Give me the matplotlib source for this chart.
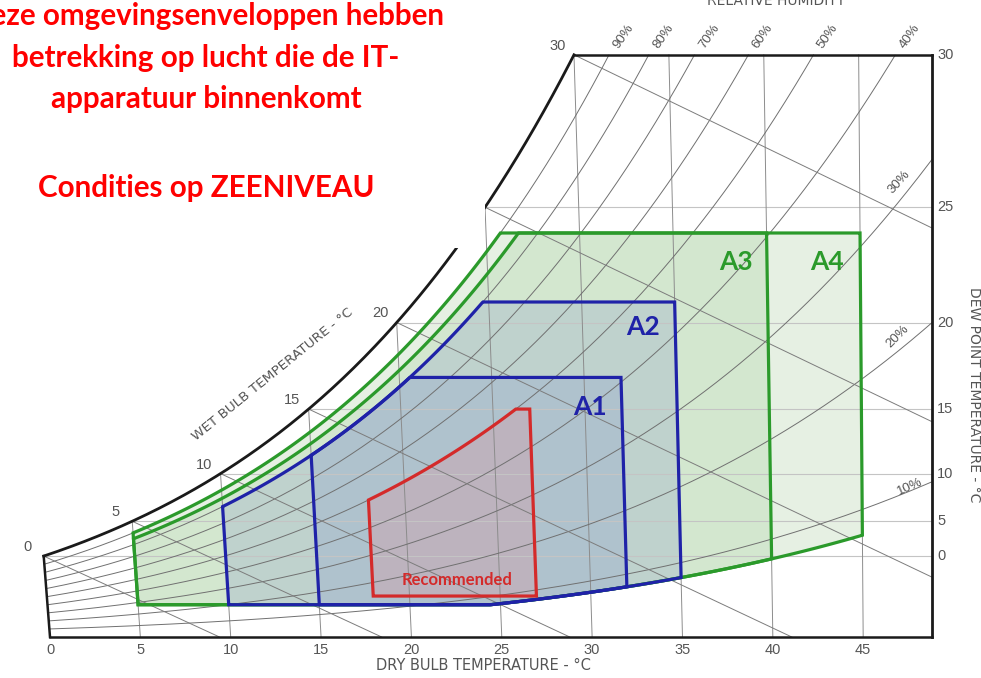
import numpy as np
import matplotlib
matplotlib.use("Agg")
import matplotlib.pyplot as plt
from matplotlib.patches import Polygon, Rectangle

# ---------------- chart data ----------------
dry_bulb_ticks = [0, 5, 10, 15, 20, 25, 30, 35, 40, 45]
dew_point_ticks = [0, 5, 10, 15, 20, 25, 30]
rh_curves = [10, 20, 30, 40, 50, 60, 70, 80, 90]
rh_top_labels = [40, 50, 60, 70, 80, 90]
rh_side_labels = [10, 20, 30]
wet_bulb_lines = [0, 5, 10, 15, 20, 25, 30]

# ASHRAE envelopes: dry-bulb range, lower dew point / RH, upper dew point / RH
env_names = ["A4", "A3", "A2", "A1", "Recommended"]
env_db_min = [5, 5, 10, 15, 18]
env_db_max = [45, 40, 35, 32, 27]
env_dp_min = [-12, -12, -12, -12, -9]
env_rh_min = [8, 8, 8, 8, 0]
env_dp_max = [24, 24, 21, 17, 15]
env_rh_max = [90, 85, 80, 80, 50]

# ---------------- psychrometrics ----------------
P_ATM = 101.325


def p_sat(t):
    return 0.61094 * np.exp(17.625 * t / (t + 243.04))


def w_from_pw(pw):
    return 622.0 * pw / (P_ATM - pw)


def w_rh(t, rh):
    return w_from_pw(rh / 100.0 * p_sat(t))


def w_dp(td):
    return w_from_pw(p_sat(td))


def w_wb(t, twb):
    ws = w_dp(twb) / 1000.0
    return 1000.0 * ((2501 - 2.326 * twb) * ws - 1.006 * (t - twb)) / (2501 + 1.86 * t - 4.186 * twb)


def t_from_p(p):
    a = np.log(p / 0.61094)
    return 243.04 * a / (17.625 - a)


def chart_x(t, w):
    # oblique dry-bulb coordinate of the psychrometric chart
    return t + 1.86e-3 * w * (t - 50.0) / 1.006


W_TOP = w_dp(30)
X_RIGHT = 48.81

# ---------------- figure ----------------
fig = plt.figure(figsize=(9.81, 6.78), dpi=100)
ax = fig.add_axes([0, 0, 1, 1])
ax.set_xlim(-2.767, 51.52)
ax.set_ylim(-1.911, 29.697)
ax.axis("off")

fills = ["#e6f0e3", "#d3e7cf", "#bfd2cd", "#afc2cd", "#bdb3be"]
edges = ["#2b9a2b", "#2b9a2b", "#1f22a8", "#1f22a8", "#d42a2a"]

outlines = []
for i in range(len(env_names)):
    t = np.linspace(env_db_min[i], env_db_max[i], 600)
    lower = np.maximum(w_dp(env_dp_min[i]), w_rh(t, env_rh_min[i]))
    upper = np.minimum(w_dp(env_dp_max[i]), w_rh(t, env_rh_max[i]))
    ts = np.concatenate([t, t[::-1]])
    ws = np.concatenate([lower, upper[::-1]])
    pts = np.column_stack([chart_x(ts, ws), ws])
    outlines.append(pts)
    ax.add_patch(Polygon(pts, closed=True, facecolor=fills[i], edgecolor="none", zorder=1))

# dew point lines
for dp in dew_point_ticks[:-1]:
    w = w_dp(dp)
    ax.plot([chart_x(dp, w), X_RIGHT], [w, w], color="#c4c4c4", lw=0.8, zorder=2)

# dry bulb lines
for t in dry_bulb_ticks[1:]:
    wmax = min(w_dp(t), W_TOP)
    ax.plot([chart_x(t, 0), chart_x(t, wmax)], [0, wmax], color="#8c8c8c", lw=0.7, zorder=2)

# relative humidity curves
tt = np.linspace(0, 52, 3000)
for rh in rh_curves:
    w = w_rh(tt, rh)
    x = chart_x(tt, w)
    m = (w <= W_TOP) & (x <= X_RIGHT)
    ax.plot(x[m], w[m], color="#707070", lw=0.7, zorder=2)

# wet bulb lines
for twb in wet_bulb_lines:
    t = np.linspace(twb, 60, 3000)
    w = w_wb(t, twb)
    x = chart_x(t, w)
    m = (w >= 0) & (x <= X_RIGHT)
    ax.plot(x[m], w[m], color="#7c7c7c", lw=0.7, zorder=2)

# saturation curve and chart frame
ts = np.linspace(0, 30, 300)
wsat = w_dp(ts)
ax.plot(chart_x(ts, wsat), wsat, color="#1a1a1a", lw=2.0, zorder=3)
ax.plot([chart_x(0, 0), chart_x(0, w_dp(0))], [0, w_dp(0)], color="#1a1a1a", lw=1.8, zorder=3)
ax.plot([0, X_RIGHT], [0, 0], color="#1a1a1a", lw=1.8, zorder=3)
ax.plot([X_RIGHT, X_RIGHT], [0, W_TOP], color="#1a1a1a", lw=2.0, zorder=3)
ax.plot([chart_x(30, W_TOP), X_RIGHT], [W_TOP, W_TOP], color="#1a1a1a", lw=1.8, zorder=3)

# envelope outlines
for i, pts in enumerate(outlines):
    ax.add_patch(Polygon(pts, closed=True, facecolor="none", edgecolor=edges[i],
                         lw=2.3, joinstyle="miter", zorder=4))

# axis labels
tick_font = dict(family="Liberation Sans", color="#555555", fontsize=10.5)
for t in dry_bulb_ticks:
    ax.text(t, -0.6, str(t), ha="center", va="center", **tick_font)
for dp in dew_point_ticks:
    ax.text(49.09, w_dp(dp), str(dp), ha="left", va="center", **tick_font)
for twb in wet_bulb_lines:
    w = w_dp(twb)
    ax.annotate(str(twb), (chart_x(twb, w), w), xytext=(-12, 6.5), textcoords="offset points",
                ha="center", va="center", **tick_font)
for rh in rh_top_labels:
    t = t_from_p(W_TOP / (622 + W_TOP) * P_ATM / (rh / 100.0))
    ax.annotate(f"{rh}%", (chart_x(t, W_TOP), W_TOP), xytext=(10.5, 13.5),
                textcoords="offset points", ha="center", va="center", rotation=55,
                family="Liberation Sans", color="#555555", fontsize=9.5)
side_rot = {10: 24, 20: 45, 30: 48}
side_dx = {10: 47.6, 20: 46.9, 30: 47.0}
side_up = {10: 3, 20: 11, 30: 14}
for rh in rh_side_labels:
    xx = side_dx[rh]
    t = np.linspace(40, 50, 2000)
    w = w_rh(t, rh)
    k = np.argmin(np.abs(chart_x(t, w) - xx))
    ax.annotate(f"{rh}%", (chart_x(t[k], w[k]), w[k]), xytext=(0, side_up[rh]),
                textcoords="offset points", ha="center", va="center", rotation=side_rot[rh],
                family="Liberation Sans", color="#555555", fontsize=9.5)

small_font = dict(family="DejaVu Sans", color="#555555")
ax.text(24.0, -1.35, "DRY BULB TEMPERATURE - °C", ha="center", va="center", fontsize=10.5, **small_font)
ax.text(51.15, 11.28, "DEW POINT TEMPERATURE - °C", ha="center", va="center", rotation=-90,
        fontsize=10, **small_font)
ax.text(12.3, 12.26, "WET BULB TEMPERATURE - °C", ha="center", va="center", rotation=39,
        fontsize=9.7, **small_font)
ax.text(40.2, 29.45, "RELATIVE HUMIDITY", ha="center", va="baseline", fontsize=10, **small_font)

# envelope names
label_pos = {"A1": (29.88, 10.72), "A2": (32.82, 14.45), "A3": (37.96, 17.48), "A4": (43.0, 17.48),
             "Recommended": (22.52, 2.66)}
label_col = {"A1": "#1f22a8", "A2": "#1f22a8", "A3": "#2b9a2b", "A4": "#2b9a2b", "Recommended": "#d42a2a"}
for name in env_names:
    x, y = label_pos[name]
    ax.text(x, y, name, ha="center", va="center", family="Lato", weight="bold",
            fontsize=12 if name == "Recommended" else 19, color=label_col[name], zorder=5)

# note box on top of the chart
ax.add_patch(Rectangle((0, 1 - 248 / 678), 485 / 981, 248 / 678, transform=ax.transAxes,
                       facecolor="white", edgecolor="none", zorder=20))
note = ["Deze omgevingsenveloppen hebben", "betrekking op lucht die de IT-",
        "apparatuur binnenkomt", "Condities op ZEENIVEAU"]
note_y = [25, 67, 108, 197]
for line, y in zip(note, note_y):
    ax.text(206 / 981, 1 - y / 678, line, transform=ax.transAxes, ha="center", va="baseline",
            family="Lato", weight="bold", fontsize=21.3, color="#ff0000", zorder=21)

fig.savefig("out.png", dpi=100)
